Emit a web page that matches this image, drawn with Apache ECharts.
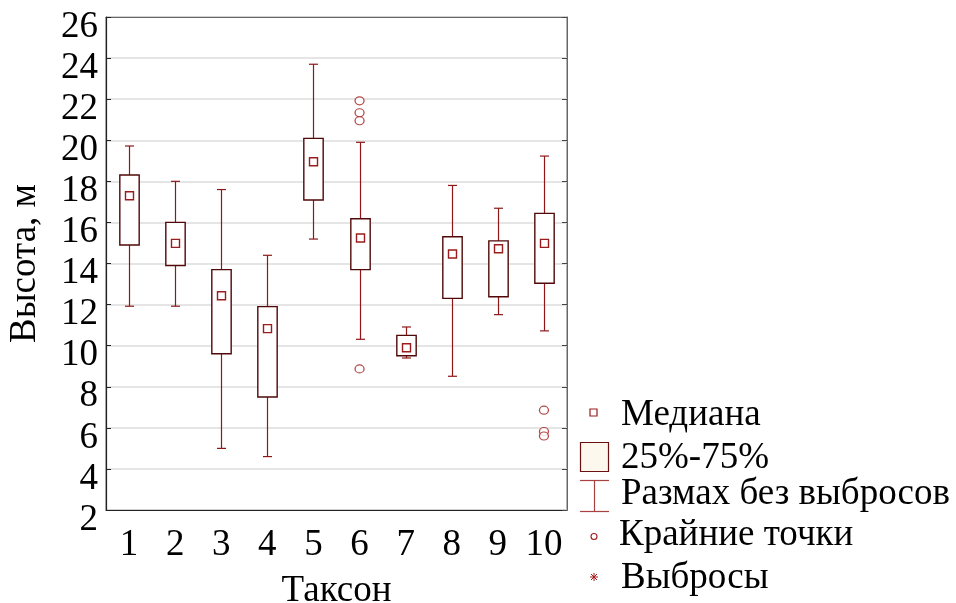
<!DOCTYPE html>
<html>
<head>
<meta charset="utf-8">
<script src="https://cdn.jsdelivr.net/npm/echarts@6/dist/echarts.min.js"></script>
<style>html,body{margin:0;padding:0;background:#fff;}#c{width:956px;height:603px;}</style>
</head>
<body>
<div id="c"></div>
<script>
// Data
const categories = ['1','2','3','4','5','6','7','8','9','10'];
const whiskerLow = [11.92, 11.92, 5.0, 4.6, 15.19, 10.31, 9.4, 8.51, 11.51, 10.72];
const q1 =         [14.9, 13.9, 9.61, 7.5, 17.09, 13.7, 9.51, 12.3, 12.38, 13.04];
const median =     [17.3, 14.98, 12.43, 10.83, 18.95, 15.24, 9.9, 14.46, 14.72, 14.98];
const q3 =         [18.31, 16.0, 13.7, 11.9, 20.09, 16.18, 10.5, 15.3, 15.1, 16.44];
const whiskerHigh =[19.72, 18.0, 17.6, 14.4, 23.7, 19.9, 10.91, 17.8, 16.69, 19.23];
const extremeCat = ['6','6','6','6','10','10','10'];
const extremeVal = [21.92, 21.34, 20.95, 8.87, 6.86, 5.82, 5.6];
const yTicks = [2,4,6,8,10,12,14,16,18,20,22,24,26];
const legendLabels = ['Медиана','25%-75%','Размах без выбросов','Крайние точки','Выбросы'];

const FONT = '"Liberation Serif","Times New Roman",serif';
const boxData = categories.map((c,i)=>[i, whiskerLow[i], q1[i], median[i], q3[i], whiskerHigh[i]]);
const extremeData = extremeCat.map((c,i)=>[categories.indexOf(c), extremeVal[i]]);

const chart = echarts.init(document.getElementById('c'), null, {renderer:'canvas'});

function renderBox(params, api){
  const x = api.value(0);
  const pLow = api.coord([x, api.value(1)]);
  const pQ1 = api.coord([x, api.value(2)]);
  const pMed = api.coord([x, api.value(3)]);
  const pQ3 = api.coord([x, api.value(4)]);
  const pHigh = api.coord([x, api.value(5)]);
  const bw = api.size([1,0])[0]*0.42;
  const cw = 9;
  const cx = Math.round(pMed[0]) + 0.5;
  const wStyle = {stroke:'#8e1818', lineWidth:1.2};
  return {type:'group', children:[
    {type:'line', shape:{x1:cx,y1:pHigh[1],x2:cx,y2:pQ3[1]}, style:wStyle},
    {type:'line', shape:{x1:cx,y1:pQ1[1],x2:cx,y2:pLow[1]}, style:wStyle},
    {type:'line', shape:{x1:cx-cw/2,y1:pHigh[1],x2:cx+cw/2,y2:pHigh[1]}, style:wStyle},
    {type:'line', shape:{x1:cx-cw/2,y1:pLow[1],x2:cx+cw/2,y2:pLow[1]}, style:wStyle},
    {type:'rect', shape:{x:cx-bw/2, y:pQ3[1], width:bw, height:pQ1[1]-pQ3[1]},
      style:{fill:'#ffffff', stroke:'#520808', lineWidth:1.4}},
    {type:'rect', shape:{x:cx-4, y:pMed[1]-4, width:8, height:8},
      style:{fill:'none', stroke:'#9a1c1c', lineWidth:1.4}}
  ]};
}

const LX = 594;
const AY = 577;
const graphics = [
  {type:'rect', shape:{x:LX-4,y:409,width:7,height:7}, style:{fill:'#fff',stroke:'#9a1c1c',lineWidth:1.2}},
  {type:'rect', shape:{x:580.5,y:442.5,width:28,height:29}, style:{fill:'#fdf8ee',stroke:'#6a1010',lineWidth:1.2}},
  {type:'line', shape:{x1:580,y1:480.5,x2:609,y2:480.5}, style:{stroke:'#a84040',lineWidth:1.2}},
  {type:'line', shape:{x1:594.5,y1:480.5,x2:594.5,y2:511.5}, style:{stroke:'#a84040',lineWidth:1.2}},
  {type:'line', shape:{x1:580,y1:511.5,x2:609,y2:511.5}, style:{stroke:'#a84040',lineWidth:1.2}},
  {type:'circle', shape:{cx:LX,cy:536.5,r:3}, style:{fill:'#fff',stroke:'#9a1c1c',lineWidth:1.1}},
  {type:'line', shape:{x1:LX,y1:AY-4,x2:LX,y2:AY+4}, style:{stroke:'#a01c1c',lineWidth:1}},
  {type:'line', shape:{x1:LX-4,y1:AY,x2:LX+4,y2:AY}, style:{stroke:'#a01c1c',lineWidth:1}},
  {type:'line', shape:{x1:LX-3,y1:AY-3,x2:LX+3,y2:AY+3}, style:{stroke:'#a01c1c',lineWidth:1}},
  {type:'line', shape:{x1:LX-3,y1:AY+3,x2:LX+3,y2:AY-3}, style:{stroke:'#a01c1c',lineWidth:1}}
];
const legY = [415, 458, 494, 535, 578];
const legX = [621, 621, 621, 619, 621];
legendLabels.forEach((t,i)=>{
  graphics.push({type:'text', x:legX[i], y:legY[i], style:{text:t, font:'37px '+FONT, fill:'#000', verticalAlign:'middle'}});
});

chart.setOption({
  animation:false,
  backgroundColor:'#fff',
  grid:{left:106, top:17, width:461, height:493, outerBoundsMode:'none', containLabel:false,
    show:true, borderColor:'#666', borderWidth:1, backgroundColor:'transparent'},
  xAxis:[{
    type:'category', data:categories, boundaryGap:true, position:'bottom',
    name:'Таксон', nameLocation:'middle', nameGap:63,
    nameTextStyle:{fontFamily:FONT, fontSize:37, color:'#000'},
    axisLine:{lineStyle:{color:'#222', width:1.2}},
    axisTick:{inside:true, alignWithLabel:true, length:5, lineStyle:{color:'#222'}},
    axisLabel:{fontFamily:FONT, fontSize:37, color:'#000', margin:17, interval:0},
    splitLine:{show:false}
  },{
    type:'category', data:categories, boundaryGap:true, position:'top',
    axisLine:{lineStyle:{color:'#666'}},
    axisTick:{inside:true, alignWithLabel:true, length:5, lineStyle:{color:'#444'}},
    axisLabel:{show:false}, splitLine:{show:false}
  }],
  yAxis:[{
    type:'value', min:2, max:26, interval:2, position:'left',
    name:'Высота, м', nameLocation:'middle', nameGap:62, nameRotate:90,
    nameTextStyle:{fontFamily:FONT, fontSize:37, color:'#000'},
    axisLine:{show:true, lineStyle:{color:'#222', width:1.2}},
    axisTick:{show:true, inside:true, length:5, lineStyle:{color:'#222'}},
    axisLabel:{fontFamily:FONT, fontSize:37, color:'#000', margin:8,
      verticalAlign:'top', lineHeight:20, customValues: yTicks},
    splitLine:{show:true, lineStyle:{color:'#dcdcdc', width:1.5}}
  },{
    type:'value', min:2, max:26, interval:2, position:'right',
    axisLine:{show:true, lineStyle:{color:'#666'}},
    axisTick:{show:true, inside:true, length:5, lineStyle:{color:'#444'}},
    axisLabel:{show:false}, splitLine:{show:false}
  }],
  graphic: graphics,
  series:[{
    type:'custom', name:'box', renderItem:renderBox, data:boxData,
    encode:{x:0, y:[1,2,3,4,5]}, z:3
  },{
    type:'scatter', name:'extreme', data:extremeData, symbol:'circle', symbolSize:[9,8],
    itemStyle:{color:'#fff', borderColor:'#a01c1c', borderWidth:1.2}, z:4
  }]
});
</script>
</body>
</html>
